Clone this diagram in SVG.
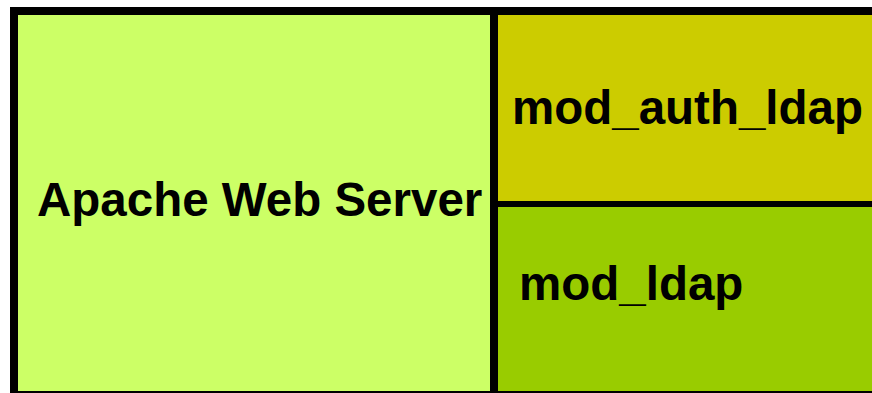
<svg xmlns="http://www.w3.org/2000/svg" width="872" height="393" viewBox="0 0 872 393">
<style>
.lbl{font-family:"Liberation Sans",Arial,sans-serif;font-weight:bold;font-size:47.5px;fill:#000}
</style>
<rect x="0" y="0" width="872" height="393" fill="#fff"/>
<rect x="10" y="7" width="862" height="386" fill="#000"/>
<g id="apache">
<rect x="18" y="15" width="472" height="376" fill="#CCFF66"/>
<text class="lbl" x="37" y="216">Apache Web Server</text>
</g>
<g id="mod_auth_ldap">
<rect x="498" y="15" width="374" height="186" fill="#CCCC00"/>
<text class="lbl" x="512" y="124">mod_auth_ldap</text>
</g>
<g id="mod_ldap">
<rect x="498" y="207" width="374" height="184" fill="#99CC00"/>
<text class="lbl" x="519" y="300">mod_ldap</text>
</g>
<g id="connectors"></g>
</svg>
